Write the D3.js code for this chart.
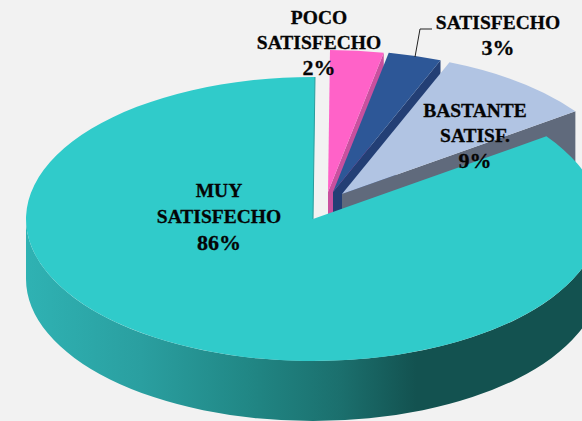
<!DOCTYPE html>
<html>
<head>
<meta charset="utf-8">
<script src="https://cdn.jsdelivr.net/npm/d3@7"></script>
<style>
  html, body { margin: 0; padding: 0; background: #f2f2f2; }
  svg { display: block; }
  text { font-family: "Liberation Serif", serif; font-weight: bold; font-size: 19.5px; fill: #050505; stroke: #050505; stroke-width: 0.3px; text-anchor: middle; }
  text.pct { font-size: 22px; }
</style>
</head>
<body>
<script>
var categories = ["MUY SATISFECHO", "POCO SATISFECHO", "SATISFECHO", "BASTANTE SATISF."];
// slice sizes as drawn in the picture; the printed labels below say 86% and 2% for the first two
var values = [85, 3, 3, 9];
var percentLabels = ["86%", "2%", "3%", "9%"];
var topColors = ["#30cbca", "#ff62c8", "#2d5797", "#b1c4e3"];
var wallColors = ["#2a9d9d", "#c9509f", "#233f75", "#606a7c"];

var width = 582, height = 421,
    rx = 287, ry = 142, depth = 60;

// apex of each slice on the picture (the small ones are pulled out)
var apex = [[313, 219], [328, 192], [333, 192], [342, 194]];

// label lines: text, x, baseline y
var labelLines = [
    [["MUY", 219, 197], ["SATISFECHO", 219, 223], [percentLabels[0], 219, 250]],
    [["POCO", 319, 24], ["SATISFECHO", 319, 49], [percentLabels[1], 319, 75]],
    [["SATISFECHO", 498, 29], [percentLabels[2], 498, 55]],
    [["BASTANTE", 475, 117], ["SATISF.", 475, 142], [percentLabels[3], 475, 168]]
];

var svg = d3.select("body").append("svg")
    .attr("width", width)
    .attr("height", height);

// shading of the big slice wall
var grad = svg.append("defs").append("linearGradient")
    .attr("id", "wall")
    .attr("gradientUnits", "userSpaceOnUse")
    .attr("x1", 26).attr("x2", 600).attr("y1", 0).attr("y2", 0);
[[0, "#2fb2b3"], [0.2, "#2a9fa0"], [0.38, "#218886"], [0.55, "#1b6f6d"], [0.68, "#135250"], [1, "#135250"]]
    .forEach(function (s) {
        grad.append("stop").attr("offset", s[0]).attr("stop-color", s[1]);
    });

var pie = d3.pie()
    .sort(null)
    .startAngle(54.4 * Math.PI / 180)
    .endAngle((54.4 + 360) * Math.PI / 180);
var slices = pie(values);

var arc = d3.arc().innerRadius(0).outerRadius(rx);

// point on the rim of a slice for a given pie angle
function rim(i, a) {
    return [apex[i][0] + rx * Math.sin(a), apex[i][1] - ry * Math.cos(a)];
}

function cutWall(i, a) {
    var p = rim(i, a);
    return "M" + apex[i] + "L" + p + "L" + [p[0], p[1] + depth] + "L" + [apex[i][0], apex[i][1] + depth] + "Z";
}

// front wall of the big slice, left side round to the right side
function frontWall(i) {
    var a = apex[i];
    return "M" + [a[0] - rx, a[1]] +
        "A" + rx + "," + ry + " 0 0 0 " + [a[0] + rx, a[1]] +
        "L" + [a[0] + rx, a[1] + depth] +
        "A" + rx + "," + ry + " 0 0 1 " + [a[0] - rx, a[1] + depth] + "Z";
}

// small slices first, back to front, big slice last
[1, 2, 3, 0].forEach(function (i) {
    var d = slices[i];
    if (i === 0) {
        svg.append("path").attr("d", frontWall(i)).attr("fill", "url(#wall)");
    } else {
        svg.append("path").attr("d", cutWall(i, d.endAngle)).attr("fill", wallColors[i]);
    }
    svg.append("path")
        .attr("d", arc(d))
        .attr("transform", "translate(" + apex[i] + ") scale(1," + (ry / rx) + ")")
        .attr("fill", topColors[i]);
});

// thin shaded edge along the cut of the big slice
var edge = rim(0, slices[0].endAngle);
svg.append("line")
    .attr("x1", apex[0][0]).attr("y1", apex[0][1])
    .attr("x2", edge[0]).attr("y2", edge[1])
    .attr("stroke", wallColors[0]).attr("stroke-width", 1);

// leader of the SATISFECHO label
svg.append("path")
    .attr("d", "M415,57L420,29L432,29")
    .attr("fill", "none")
    .attr("stroke", "#222")
    .attr("stroke-width", 1);

labelLines.forEach(function (lines) {
    svg.selectAll(null)
        .data(lines)
        .enter().append("text")
        .attr("class", function (d) { return d[0].indexOf("%") > 0 ? "pct" : null; })
        .attr("x", function (d) { return d[1]; })
        .attr("y", function (d) { return d[2]; })
        .text(function (d) { return d[0]; });
});
</script>
</body>
</html>
